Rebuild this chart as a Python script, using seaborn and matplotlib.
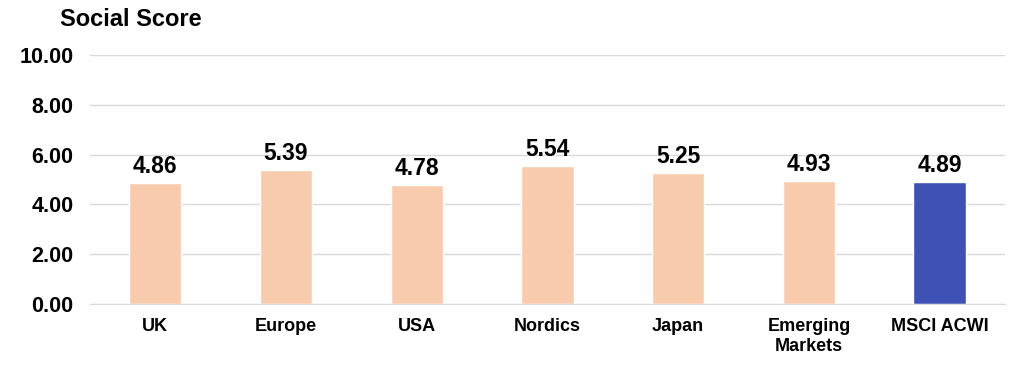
import matplotlib
matplotlib.use("Agg")
import matplotlib.pyplot as plt
import seaborn as sns
import pandas as pd

# data
regions = ['UK', 'Europe', 'USA', 'Nordics', 'Japan', 'Emerging\nMarkets', 'MSCI ACWI']
scores = [4.86, 5.39, 4.78, 5.54, 5.25, 4.93, 4.89]
bar_colors = ['#F8CBAD'] * 6 + ['#3F51B5']

df = pd.DataFrame({'region': regions, 'score': scores})

sns.set_style('white')
plt.rcParams['font.family'] = ['Liberation Sans', 'DejaVu Sans']
plt.rcParams['font.weight'] = 'bold'
plt.rcParams['text.color'] = '#000000'
plt.rcParams['xtick.color'] = '#000000'
plt.rcParams['ytick.color'] = '#000000'

fig = plt.figure(figsize=(10.24, 3.66), dpi=100)
ax = fig.add_axes([90 / 1024, 1 - 304 / 366, 915 / 1024, 249 / 366])

sns.barplot(data=df, x='region', y='score', hue='region', palette=bar_colors,
            width=0.4, legend=False, ax=ax, saturation=1)

for i, v in enumerate(scores):
    ax.text(i, v + 0.2, f'{v:.2f}', ha='center', va='bottom',
            fontsize=16.5, fontweight='bold', color='#000000')

ax.set_ylim(0, 10)
ax.set_yticks([0, 2, 4, 6, 8, 10])
ax.set_yticklabels([f'{t:.2f}' for t in [0, 2, 4, 6, 8, 10]], fontsize=15.5, fontweight='bold')
ax.set_xticks(range(len(regions)))
ax.set_xticklabels(regions, fontsize=13, fontweight='bold', linespacing=1.25)
ax.set_xlim(-0.5, len(regions) - 0.5)
ax.set_xlabel('')
ax.set_ylabel('')
ax.yaxis.grid(True, color='#D9D9D9', linewidth=1)
ax.set_axisbelow(True)
for s in ['top', 'right', 'left']:
    ax.spines[s].set_visible(False)
ax.spines['bottom'].set_color('#D9D9D9')
ax.tick_params(axis='both', length=0)
ax.tick_params(axis='y', pad=12)
ax.tick_params(axis='x', pad=10)

fig.text(60 / 1024, 1 - 20 / 366, 'Social Score', fontsize=17, fontweight='bold',
         ha='left', va='center')

fig.savefig('out.png', dpi=100)
